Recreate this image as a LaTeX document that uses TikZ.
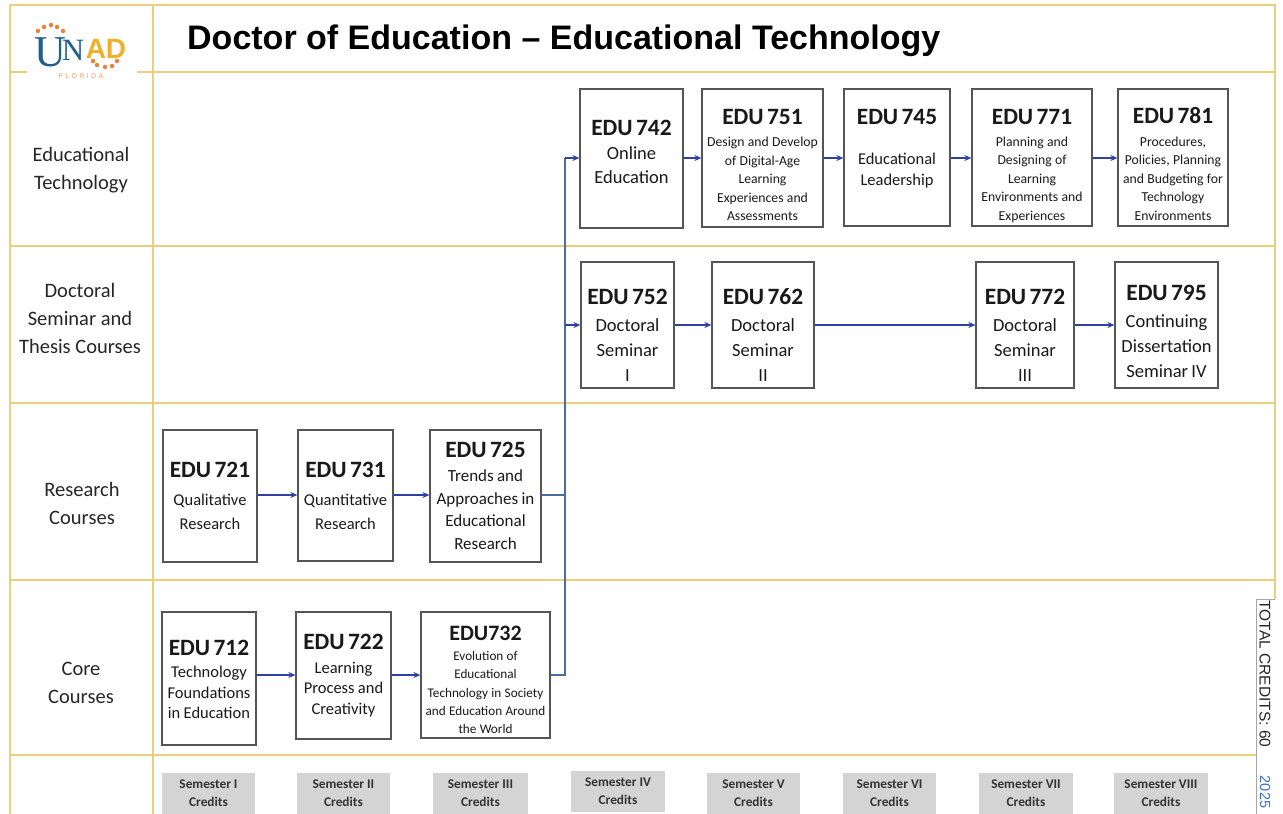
\documentclass[tikz,border=0pt]{standalone}
\usepackage{fontspec}
\setmainfont{Carlito}
\newfontfamily\arialfont{Liberation Sans}
\newfontfamily\serifface{Liberation Serif}
\newcommand{\headfont}{\fontsize{23.4}{26}\selectfont\bfseries}
\newcommand{\bodyfont}{\fontsize{18.5}{24}\selectfont\mdseries}
\newcommand{\seminarfont}{\fontsize{18.5}{25}\selectfont\mdseries}
\newcommand{\midfont}{\fontsize{16.5}{20.5}\selectfont\mdseries}
\newcommand{\researchfont}{\fontsize{16.5}{24}\selectfont\mdseries}
\newcommand{\smallbody}{\fontsize{13.7}{18.5}\selectfont\mdseries}
\newcommand{\toppad}[1]{\rule{0pt}{\dimexpr 15pt+#1\relax}}
\definecolor{gridline}{HTML}{EBCF7C}
\definecolor{boxline}{HTML}{555555}
\definecolor{flowblue}{HTML}{2E3FA6}
\definecolor{trunkblue}{HTML}{4A6C9E}
\definecolor{unadblue}{HTML}{1F5F8B}
\definecolor{unadgold}{HTML}{EFB12B}
\definecolor{unadorange}{HTML}{E8823A}
\definecolor{yearblue}{HTML}{3A6FC4}
\usetikzlibrary{arrows.meta}
\tikzstyle{course}=[draw=boxline, line width=1.2pt, inner sep=0, align=center, text=black!90, text width=#1, minimum width=#1]
\tikzstyle{flow}=[draw=flowblue, line width=1.3pt, -{Stealth[length=7pt, width=6pt]}]
\tikzstyle{trunk}=[draw=trunkblue, line width=1.3pt]
\tikzstyle{gridrule}=[draw=gridline, line width=1.6pt]
\tikzstyle{rowlabel}=[inner sep=0, align=center, font=\fontsize{20.5}{28}\selectfont, text=black!85]
\tikzstyle{semester}=[fill=black!17, inner sep=0, align=center, minimum height=41pt, font=\fontsize{13.3}{17.5}\selectfont\bfseries, text=black!80]
\tikzstyle{dot}=[circle, fill=unadorange, inner sep=0, minimum size=4.5pt]

\begin{document}
\begin{tikzpicture}[x=1pt, y=-1pt]
        \useasboundingbox (0, 0) rectangle (1283, 814);
        % Frame of the chart.
        \draw[gridrule] (10, 814) -- (10, 5) -- (1275, 5) -- (1275, 599);
        \draw[gridrule] (153, 5) -- (153, 814);
        \draw[gridrule] (10, 72) -- (27, 72);
        \draw[gridrule] (137, 72) -- (1275, 72);
        \draw[gridrule] (10, 246) -- (1275, 246);
        \draw[gridrule] (10, 403) -- (1275, 403);
        \draw[gridrule] (10, 580) -- (1275, 580);
        \draw[gridrule] (10, 755) -- (1256, 755);

        % Logo.
        \node[inner sep=0, text=unadblue, font=\fontsize{44}{44}\selectfont\serifface] (logoU) at (50, 52) {U};
        \node[inner sep=0, text=unadblue, font=\fontsize{31}{31}\selectfont\serifface] (logoN) at (73, 50) {N};
        \node[inner sep=0, text=unadgold, font=\fontsize{28}{28}\selectfont\arialfont\bfseries] (logoAD) at (106, 49) {AD};
        \node[inner sep=0, text=unadorange!80, font=\fontsize{7}{7}\selectfont\arialfont] (logoF) at (81, 76) {F\,\,L\,\,O\,\,R\,\,I\,\,D\,\,A};
        \foreach \i/\x/\y in {a/38/31, b/44/27, c/51/25, d/57/27, e/63/31, f/93/61, g/97/65, h/105/67, j/112/66, k/117/61}
            \node[dot] (dot\i) at (\x, \y) {};

        \node[anchor=west, inner sep=0, font=\fontsize{34}{40}\selectfont\arialfont\bfseries] (title) at (187, 41) {Doctor of Education – Educational Technology};

        \node[rowlabel] (rowtech) at (81, 170) {Educational\\Technology};
        \node[rowlabel] (rowthesis) at (80, 318) {Doctoral\\Seminar and\\Thesis Courses};
        \node[rowlabel] (rowresearch) at (82, 503) {Research\\Courses};
        \node[rowlabel] (rowcore) at (81, 683) {Core\\Courses};

        % Educational technology row.
        \node[course=103pt, minimum height=139pt] (edu742) at (631.5, 158.5) {\headfont EDU 742\par\bodyfont Online\\Education\par\vspace*{14pt}};
        \node[course=121pt, minimum height=138pt] (edu751) at (762.5, 158) {\toppad{14pt}\headfont EDU 751\par\vspace{4pt}\smallbody Design and Develop\\of Digital-Age\\Learning\\Experiences and\\Assessments\par};
        \node[course=106pt, minimum height=137pt] (edu745) at (897, 157.5) {\headfont EDU 745\par\vspace{20pt}\midfont Educational\\Leadership\par\vspace*{18pt}};
        \node[course=120pt, minimum height=137pt] (edu771) at (1032, 157.5) {\toppad{17pt}\headfont EDU 771\par\vspace{3pt}\smallbody Planning and\\Designing of\\Learning\\Environments and\\Experiences\par};
        \node[course=110pt, minimum height=137pt] (edu781) at (1173, 157.5) {\toppad{14pt}\headfont EDU 781\par\vspace{4pt}\smallbody Procedures,\\Policies, Planning\\and Budgeting for\\Technology\\Environments\par};

        % Seminar row.
        \node[course=93pt, minimum height=126pt] (edu752) at (627.5, 325) {\toppad{21pt}\headfont EDU 752\par\vspace{2pt}\seminarfont Doctoral\\Seminar\\I\par};
        \node[course=102pt, minimum height=126pt] (edu762) at (763, 325) {\toppad{21pt}\headfont EDU 762\par\vspace{2pt}\seminarfont Doctoral\\Seminar\\II\par};
        \node[course=98pt, minimum height=126pt] (edu772) at (1025, 325) {\toppad{21pt}\headfont EDU 772\par\vspace{2pt}\seminarfont Doctoral\\Seminar\\III\par};
        \node[course=103pt, minimum height=126pt] (edu795) at (1166.5, 325) {\toppad{13pt}\headfont EDU 795\par\vspace{2pt}\seminarfont Continuing\\Dissertation\\Seminar IV\par};

        % Research row.
        \node[course=94pt, minimum height=132pt] (edu721) at (210, 496) {\headfont EDU 721\par\vspace{4pt}\researchfont Qualitative\\Research\par};
        \node[course=95pt, minimum height=131pt] (edu731) at (345.5, 495.5) {\headfont EDU 731\par\vspace{4pt}\researchfont Quantitative\\Research\par};
        \node[course=111pt, minimum height=132pt] (edu725) at (485.5, 496) {\headfont EDU 725\par\vspace{1.5pt}\fontsize{17}{22.5}\selectfont\mdseries Trends and\\Approaches in\\Educational\\Research\par};

        % Core row.
        \node[course=94pt, minimum height=133pt] (edu712) at (209, 678.5) {\toppad{2pt}\headfont EDU 712\par\vspace{2pt}\midfont Technology\\Foundations\\in Education\par};
        \node[course=95pt, minimum height=127pt] (edu722) at (343.5, 675.5) {\headfont EDU 722\par\vspace{3pt}\midfont Learning\\Process and\\Creativity\par};
        \node[course=129pt, minimum height=126pt] (edu732) at (485.5, 675) {\toppad{9pt}\fontsize{22}{24}\selectfont\bfseries EDU732\par\vspace{2pt}\fontsize{13.2}{18.1}\selectfont\mdseries Evolution of\\Educational\\Technology in Society\\and Education Around\\the World\par};

        % Connectors.
        \coordinate (trunkbottom) at (565, 675);
        \coordinate (trunkmid) at (565, 495);
        \coordinate (trunkseminar) at (565, 325);
        \coordinate (trunktop) at (565, 158);
        \draw[trunk] (edu732.east |- trunkbottom) -- (trunkbottom) -- (trunktop);
        \draw[trunk] (edu725.east |- trunkmid) -- (trunkmid);
        \draw[flow] (trunktop) -- (trunktop -| edu742.west);
        \draw[flow] (trunkseminar) -- (trunkseminar -| edu752.west);
        \draw[flow] (edu742.east |- trunktop) -- (edu751.west |- trunktop);
        \draw[flow] (edu751.east |- trunktop) -- (edu745.west |- trunktop);
        \draw[flow] (edu745.east |- trunktop) -- (edu771.west |- trunktop);
        \draw[flow] (edu771.east |- trunktop) -- (edu781.west |- trunktop);
        \draw[flow] (edu752) -- (edu762);
        \draw[flow] (edu762) -- (edu772);
        \draw[flow] (edu772) -- (edu795);
        \draw[flow] (edu721.east |- trunkmid) -- (edu731.west |- trunkmid);
        \draw[flow] (edu731.east |- trunkmid) -- (edu725.west |- trunkmid);
        \draw[flow] (edu712.east |- trunkbottom) -- (edu722.west |- trunkbottom);
        \draw[flow] (edu722.east |- trunkbottom) -- (edu732.west |- trunkbottom);

        % Semester strip.
        \node[semester, minimum width=93pt] (sem1) at (208.5, 793) {Semester I\\Credits};
        \node[semester, minimum width=93pt] (sem2) at (343.5, 793) {Semester II\\Credits};
        \node[semester, minimum width=95pt] (sem3) at (480.5, 793) {Semester III\\Credits};
        \node[semester, minimum width=94pt] (sem4) at (618, 791) {Semester IV\\Credits};
        \node[semester, minimum width=93pt] (sem5) at (753.5, 793) {Semester V\\Credits};
        \node[semester, minimum width=93pt] (sem6) at (889.5, 793) {Semester VI\\Credits};
        \node[semester, minimum width=94pt] (sem7) at (1026, 793) {Semester VII\\Credits};
        \node[semester, minimum width=94pt] (sem8) at (1161, 793) {Semester VIII\\Credits};

        % Credits strip at the right.
        \draw[draw=black!35, line width=0.8pt] (1275, 599) -- (1256, 599) -- (1256, 814);
        \node[rotate=-90, inner sep=0, font=\fontsize{15.5}{16}\selectfont\arialfont, text=black!85] (credits) at (1265, 674) {TOTAL CREDITS: 60};
        \node[rotate=-90, inner sep=0, font=\fontsize{14.5}{16}\selectfont\arialfont, text=yearblue] (year) at (1265, 792) {2025};
    \end{tikzpicture}
\end{document}
